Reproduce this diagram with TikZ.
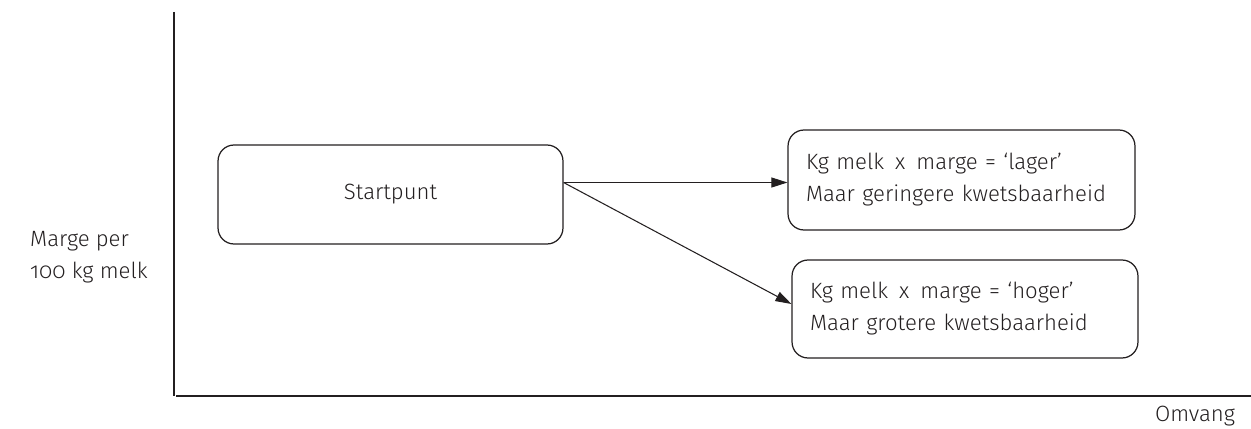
\documentclass[tikz,border=0pt]{standalone}
\usepackage{fontspec}
\setmainfont[Numbers=OldStyle]{Fira Sans Light}
\usepackage{xcolor}
\usepackage{tikz}
\usetikzlibrary{arrows.meta,positioning,calc}
\definecolor{inkgrey}{HTML}{231F20}

\tikzset{
    optiebox/.style={draw=inkgrey, line width=0.7pt, rounded corners=0.32cm,
        font=\fontsize{12.6}{18.2}\selectfont, text=inkgrey},
    pijl/.style={-{Triangle[length=0.32cm,width=0.2cm]}, line width=0.6pt, draw=inkgrey}
}

\begin{document}
\begin{tikzpicture}[x=0.02cm, y=-0.02cm]
    \useasboundingbox (0,0) rectangle (1251,429);

    % Axes
    \coordinate (ytop) at (174,12);
    \coordinate (origin) at (174,396);
    \coordinate (xend) at (1251,396);
    \draw[inkgrey, line width=0.9pt] (ytop) -- (origin);
    \draw[inkgrey, line width=1.3pt] ([xshift=0.04cm]origin) -- (xend);

    % Axis labels
    \node[anchor=west, align=left, font=\fontsize{12.6}{18.2}\selectfont, text=inkgrey]
        (ylabel) at (24,257) {Marge per\\100 kg melk};
    \node[font=\fontsize{12.6}{14}\selectfont, text=inkgrey, inner sep=0pt] (xlabel) at (1195,416) {Omvang};

    % Start box
    \node[optiebox, minimum width=6.9cm, minimum height=1.98cm] (start) at (390.5,194.5) {Startpunt};
    \coordinate (vertrek) at ([yshift=0.24cm]start.east);

    % Option boxes
    \node[optiebox, minimum width=6.94cm, minimum height=2cm, text width=6.22cm,
        inner xsep=0.36cm, align=left] (lager) at (961.5,180)
        {Kg melk\, x\, marge = `lager'\\Maar geringere kwetsbaarheid};
    \node[optiebox, minimum width=6.92cm, minimum height=1.96cm, text width=6.2cm,
        inner xsep=0.36cm, align=left] (hoger) at (965,309)
        {Kg melk\, x\, marge = `hoger'\\Maar grotere kwetsbaarheid};

    % Arrows
    \draw[pijl] (vertrek) -- (vertrek -| lager.west);
    \draw[pijl] (vertrek) -- ([yshift=0.1cm]hoger.west);
\end{tikzpicture}
\end{document}
